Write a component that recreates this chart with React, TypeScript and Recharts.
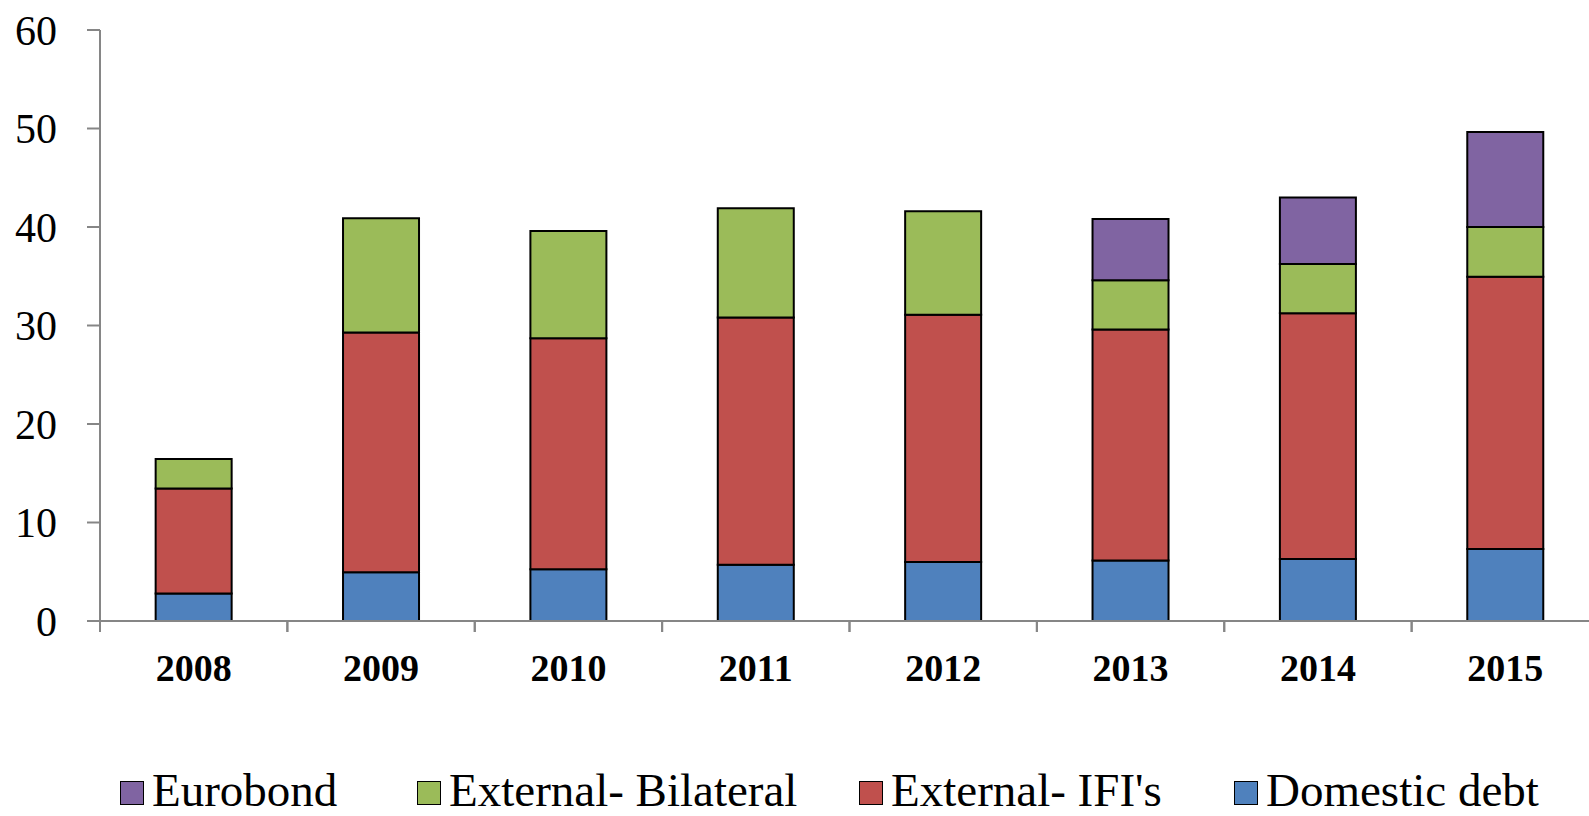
import { BarChart, Bar, XAxis, YAxis, Legend } from "recharts";

const years = ["2008", "2009", "2010", "2011", "2012", "2013", "2014", "2015"];
const domestic = [2.8, 4.95, 5.25, 5.7, 6.0, 6.15, 6.3, 7.3];
const ifis = [10.65, 24.35, 23.45, 25.1, 25.1, 23.45, 24.95, 27.65];
const bilateral = [3.0, 11.6, 10.9, 11.1, 10.5, 5.0, 5.0, 5.05];
const eurobond = [0, 0, 0, 0, 0, 6.2, 6.75, 9.65];
const yTicks = [0, 10, 20, 30, 40, 50, 60];

const series = [
  { key: "domestic", name: "Domestic debt", color: "#4F81BD" },
  { key: "ifis", name: "External- IFI's", color: "#C0504D" },
  { key: "bilateral", name: "External- Bilateral", color: "#9BBB59" },
  { key: "eurobond", name: "Eurobond", color: "#8064A2" },
];

const data = years.map((year, i) => ({
  year,
  domestic: domestic[i],
  ifis: ifis[i],
  bilateral: bilateral[i],
  eurobond: eurobond[i],
}));

const FONT = '"Liberation Serif", "DejaVu Serif", serif';
const W = 1599;
const H = 816;
const Y_AXIS_W = 100;
const BAND = (W - Y_AXIS_W) / years.length;
const X_TICK = 11;
const X_MARGIN = 22;
// legend slot widths so each swatch lands where the original has it
const LEGEND_SLOTS = [297, 442, 375, 340];

// ticks sit between categories, labels in the middle
function YearTick(props: any) {
  const { x, y, payload } = props;
  const axisY = y - X_TICK - X_MARGIN;
  const left = x - BAND / 2;
  return (
    <g>
      <line x1={left} y1={axisY} x2={left} y2={axisY + X_TICK} stroke="#868686" strokeWidth={2} />
      <line x1={left + BAND} y1={axisY} x2={left + BAND} y2={axisY + X_TICK} stroke="#868686" strokeWidth={2} />
      <text x={x} y={y} dy="0.71em" textAnchor="middle" fontFamily={FONT} fontWeight="bold" fontSize={38} fill="#000">
        {payload.value}
      </text>
    </g>
  );
}

function LegendBox() {
  return (
    <div style={{ display: "flex", paddingLeft: 120, paddingTop: 3, fontFamily: FONT, fontSize: 47, lineHeight: "47px", color: "#000" }}>
      {[...series].reverse().map((s, i) => (
        <div key={s.key} style={{ display: "flex", alignItems: "center", gap: 8, width: LEGEND_SLOTS[i], whiteSpace: "nowrap" }}>
          <span style={{ width: 22, height: 22, marginTop: 5, background: s.color, border: "1.5px solid #000", display: "inline-block", flex: "none" }} />
          <span>{s.name}</span>
        </div>
      ))}
    </div>
  );
}

export default function App() {
  return (
    <div style={{ position: "fixed", left: 0, top: 0, width: 1589, height: 816, overflow: "hidden", background: "#fff" }}>
      <BarChart width={W} height={H} data={data} margin={{ top: 30, right: 0, left: 0, bottom: 0 }} barCategoryGap="29.7%">
        <XAxis
          dataKey="year"
          height={143}
          stroke="#868686"
          strokeWidth={2}
          tickLine={false}
          tickSize={X_TICK}
          tickMargin={X_MARGIN}
          tick={<YearTick />}
          interval={0}
        />
        <YAxis
          width={Y_AXIS_W}
          domain={[0, 60]}
          ticks={yTicks}
          interval={0}
          stroke="#868686"
          strokeWidth={2}
          tickSize={13}
          tickMargin={30}
          tick={{ fontFamily: FONT, fontSize: 42, fill: "#000" }}
        />
        <Legend verticalAlign="bottom" content={<LegendBox />} wrapperStyle={{ left: 0, bottom: 0, width: W, height: 52 }} />
        {series.map((s) => (
          <Bar key={s.key} dataKey={s.key} name={s.name} stackId="a" fill={s.color} stroke="#000" strokeWidth={2} isAnimationActive={false} />
        ))}
      </BarChart>
    </div>
  );
}
